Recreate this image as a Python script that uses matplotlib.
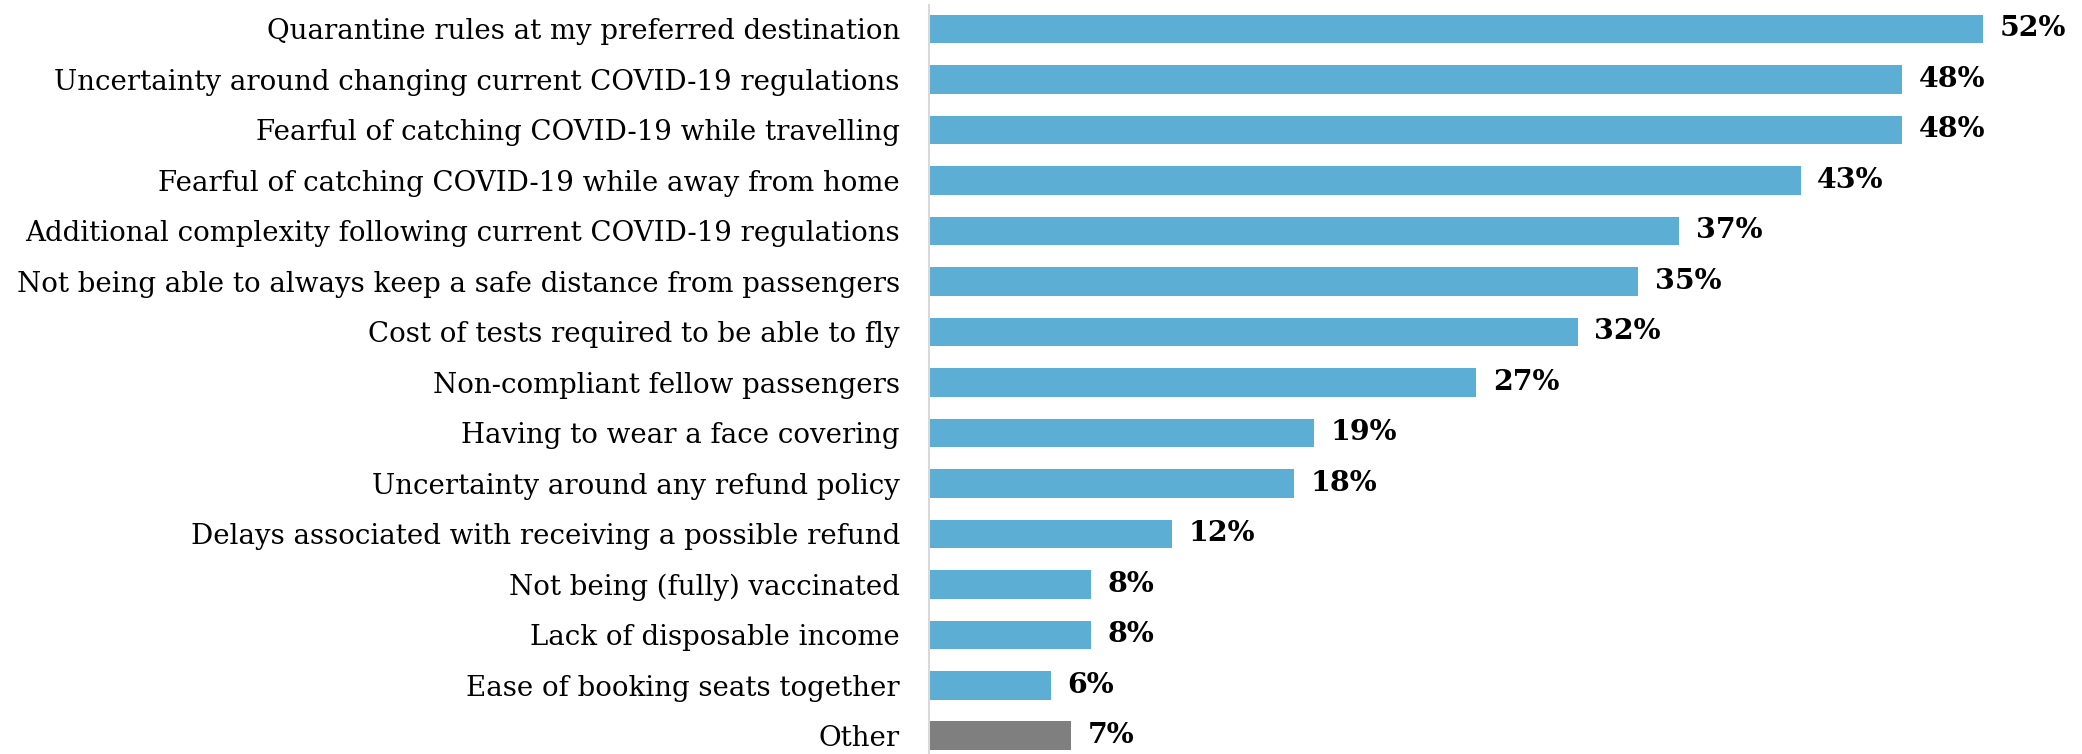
import matplotlib
matplotlib.use("Agg")
import matplotlib.pyplot as plt

# ========== Data ==========
categories = [
    "Quarantine rules at my preferred destination",
    "Uncertainty around changing current COVID-19 regulations",
    "Fearful of catching COVID-19 while travelling",
    "Fearful of catching COVID-19 while away from home",
    "Additional complexity following current COVID-19 regulations",
    "Not being able to always keep a safe distance from passengers",
    "Cost of tests required to be able to fly",
    "Non-compliant fellow passengers",
    "Having to wear a face covering",
    "Uncertainty around any refund policy",
    "Delays associated with receiving a possible refund",
    "Not being (fully) vaccinated",
    "Lack of disposable income",
    "Ease of booking seats together",
    "Other",
]
values = [52, 48, 48, 43, 37, 35, 32, 27, 19, 18, 12, 8, 8, 6, 7]

BLUE = "#5DAED4"
GREY = "#7F7F7F"
colors = [GREY if c == "Other" else BLUE for c in categories]

# ========== Figure ==========
W, H, DPI = 2082, 754, 100
fig = plt.figure(figsize=(W / DPI, H / DPI), dpi=DPI)
plt.rcParams["font.family"] = ["DejaVu Serif"]

# axes placed in pixel terms: left spine at x=929, rows ~50.5 px apart
left, right = 929, 2064
top, bottom = 5, 761
ax = fig.add_axes([left / W, (H - bottom) / H, (right - left) / W, (bottom - top) / H])

y = list(range(len(categories)))
ax.barh(y, values, height=0.565, color=colors)
ax.set_ylim(len(categories) - 0.5, -0.475)
ax.set_xlim(0, 56)

ax.set_yticks(y)
ax.set_yticklabels(categories, fontsize=19.9, color="black")
ax.tick_params(axis="y", length=0, pad=21)
ax.set_xticks([])

for s in ["top", "right", "bottom"]:
    ax.spines[s].set_visible(False)
ax.spines["left"].set_color("#D9D9D9")
ax.spines["left"].set_linewidth(1.5)

for yi, v in zip(y, values):
    ax.annotate(f"{v}%", xy=(v, yi), xytext=(12, 0), textcoords="offset points",
                va="center", ha="left", fontsize=20.5, fontweight="bold", color="black")

fig.savefig("out.png", dpi=DPI)
